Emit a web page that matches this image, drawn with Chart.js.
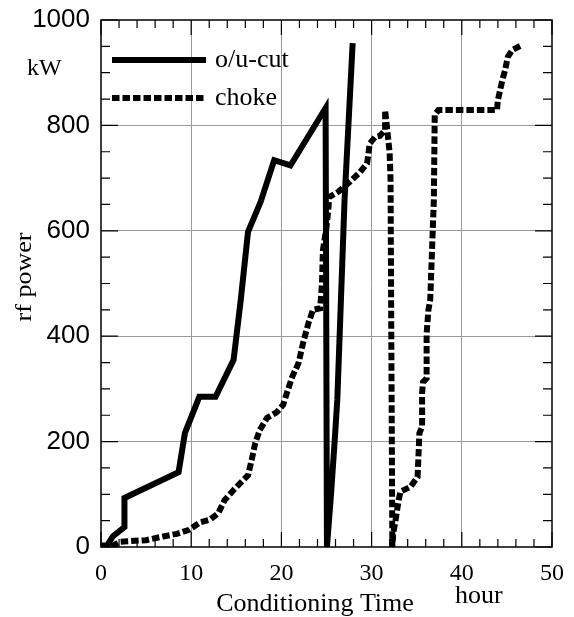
<!DOCTYPE html>
<html>
<head>
<meta charset="utf-8">
<script src="https://cdn.jsdelivr.net/npm/chart.js@4/dist/chart.umd.min.js"></script>
<style>
  html, body { margin: 0; padding: 0; background: #fff; }
  #wrap { width: 574px; height: 617px; }
</style>
</head>
<body>
<div id="wrap"><canvas id="powerChart" width="574" height="617"></canvas></div>
<script>
// o/u-cut run (solid line)
const cutTime  = [0, 0.7, 1.3, 2.6, 2.6, 8.6, 9.3, 10.9, 12.7, 14.7, 15.5, 16.3, 17.7, 19.2, 21.0, 24.9, 25.05, 25.5, 25.9, 26.2, 27.0, 27.9];
const cutPower = [3, 3, 20, 38, 93, 142, 216, 285, 285, 355, 470, 598, 655, 734, 724, 833, 0, 100, 200, 280, 658, 956];

// choke run (dashed line)
const chokeTime  = [0, 1.0, 2.1, 5.0, 6.9, 8.4, 9.7, 11.0, 12.1, 13.0, 13.7, 14.7, 15.6, 16.3, 16.7, 17.1, 17.6, 18.4, 19.5, 20.2,
                    20.6, 21.2, 21.9, 22.4, 23.0, 23.5, 24.3, 24.5, 24.6, 25.0, 25.2, 25.3, 26.3, 27.6, 28.7, 29.5, 29.8, 30.4, 30.9, 31.5,
                    31.5, 31.7, 32.0, 32.1, 32.3, 32.4, 32.6, 32.8, 33.0, 33.2, 34.3, 35.1, 35.3, 35.6, 35.6, 35.7, 36.1, 36.1, 36.3, 36.5,
                    36.9, 37.0, 37.4, 43.9, 44.0, 44.5, 44.8, 45.1, 45.6, 46.5];
const chokePower = [0, 0, 10, 13, 20, 25, 32, 47, 52, 64, 89, 108, 124, 136, 165, 197, 222, 245, 256, 270,
                    292, 323, 349, 387, 425, 450, 453, 501, 563, 607, 640, 664, 674, 693, 711, 728, 766, 778, 780, 791,
                    829, 797, 748, 696, 0, 26, 45, 67, 89, 105, 114, 133, 216, 228, 292, 313, 320, 405, 450, 469,
                    658, 820, 829, 829, 848, 886, 905, 930, 943, 951];

const seriesNames = ['o/u-cut', 'choke'];
const xTickStep = 10, xMinorStep = 2;
const yTickStep = 200, yMinorStep = 50;

function toPoints(xs, ys) {
    return xs.map((x, i) => ({ x: x, y: ys[i] }));
}

const serif = '"Liberation Serif", "Times New Roman", serif';
const sans = '"Liberation Sans", Arial, sans-serif';

// frame, inward ticks, axis captions and legend
const decorations = {
    id: 'decorations',
    afterDraw(chart) {
        const ctx = chart.ctx;
        const a = chart.chartArea;
        const xs = chart.scales.x, ys = chart.scales.y;
        ctx.save();
        ctx.strokeStyle = '#000';
        ctx.lineWidth = 1.5;
        ctx.strokeRect(a.left, a.top, a.right - a.left, a.bottom - a.top);

        ctx.lineWidth = 1.2;
        ctx.beginPath();
        for (let v = 0; v <= 50; v += xMinorStep) {
            const px = xs.getPixelForValue(v);
            const len = v % xTickStep === 0 ? 15 : 8;
            ctx.moveTo(px, a.bottom); ctx.lineTo(px, a.bottom - len);
            ctx.moveTo(px, a.top); ctx.lineTo(px, a.top + len);
        }
        for (let v = 0; v <= 1000; v += yMinorStep) {
            const py = ys.getPixelForValue(v);
            const len = v % yTickStep === 0 ? 17 : 9;
            ctx.moveTo(a.left, py); ctx.lineTo(a.left + len, py);
            ctx.moveTo(a.right, py); ctx.lineTo(a.right - len, py);
        }
        ctx.stroke();

        ctx.fillStyle = '#000';
        ctx.textAlign = 'left';
        ctx.textBaseline = 'alphabetic';
        ctx.font = '24px ' + serif;
        ctx.fillText('kW', 27, 75);
        ctx.font = '26px ' + serif;
        ctx.fillText('hour', 455, 603);
        ctx.textAlign = 'center';
        ctx.fillText('Conditioning Time', 315, 611);

        ctx.save();
        ctx.translate(31, 277);
        ctx.rotate(-Math.PI / 2);
        ctx.scale(1, 0.85);
        ctx.font = '26px ' + serif;
        ctx.fillText('rf power', 0, 0);
        ctx.restore();

        // legend
        ctx.lineWidth = 6;
        ctx.lineCap = 'butt';
        ctx.beginPath();
        ctx.moveTo(112, 60); ctx.lineTo(206, 60);
        ctx.stroke();
        ctx.setLineDash([7.5, 3]);
        ctx.beginPath();
        ctx.moveTo(112, 98); ctx.lineTo(206, 98);
        ctx.stroke();
        ctx.setLineDash([]);
        ctx.textAlign = 'left';
        ctx.font = '26px ' + serif;
        ctx.fillText(seriesNames[0], 215, 67);
        ctx.fillText(seriesNames[1], 215, 105);
        ctx.restore();
    }
};

const gridColor = (c) => (c.tick && (c.tick.value === c.scale.min || c.tick.value === c.scale.max)) ? 'rgba(0,0,0,0)' : '#9a9a9a';

new Chart(document.getElementById('powerChart').getContext('2d'), {
    type: 'scatter',
    data: {
        datasets: [{
            label: seriesNames[0],
            data: toPoints(cutTime, cutPower),
            showLine: true,
            borderColor: '#000',
            borderWidth: 6,
            pointRadius: 0,
            tension: 0,
            borderJoinStyle: 'miter'
        }, {
            label: seriesNames[1],
            data: toPoints(chokeTime, chokePower),
            showLine: true,
            borderColor: '#000',
            borderWidth: 6,
            borderDash: [7.5, 3],
            pointRadius: 0,
            tension: 0,
            borderJoinStyle: 'miter'
        }]
    },
    options: {
        responsive: false,
        animation: false,
        layout: { padding: { top: 20, right: 22, left: 0, bottom: 0 } },
        plugins: { legend: { display: false }, tooltip: { enabled: false } },
        scales: {
            x: {
                type: 'linear',
                min: 0, max: 50,
                afterFit: (s) => { s.height = 70; s.paddingLeft = 0; s.paddingRight = 0; },
                border: { display: false },
                grid: { color: gridColor, lineWidth: 1, drawTicks: false },
                ticks: { stepSize: xTickStep, color: '#000', padding: 12, font: { family: serif, size: 24 },
                         callback: (v) => String(v) }
            },
            y: {
                min: 0, max: 1000,
                afterFit: (s) => { s.width = 101; s.paddingTop = 0; s.paddingBottom = 0; },
                border: { display: false },
                grid: { color: gridColor, lineWidth: 1, drawTicks: false },
                ticks: { stepSize: yTickStep, color: '#000', padding: 11, font: { family: sans, size: 26 },
                         callback: (v) => String(v) }
            }
        }
    },
    plugins: [decorations]
});
</script>
</body>
</html>
